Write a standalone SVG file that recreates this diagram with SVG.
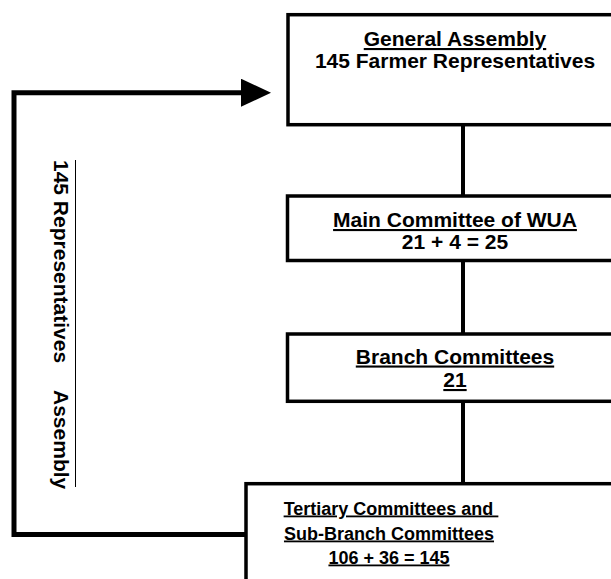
<svg xmlns="http://www.w3.org/2000/svg" width="611" height="579" viewBox="0 0 611 579">
  <style>
    .box { fill: #ffffff; stroke: #000000; stroke-width: 3.5; }
    .lbl { font-family: "Liberation Sans", Arial, sans-serif; font-weight: bold; font-size: 21px; fill: #000000; text-anchor: middle; }
    .sm { font-size: 18px; }
    .u { text-decoration: underline; }
    .link { fill: none; stroke: #000000; stroke-width: 4; }
    .loop { fill: none; stroke: #000000; stroke-width: 5; stroke-linejoin: miter; }
  </style>
  <defs>
    <marker id="arrow" markerUnits="userSpaceOnUse" markerWidth="30" markerHeight="28" viewBox="0 0 30 28" refX="0" refY="14" orient="auto">
      <path d="M0,0 L30,14 L0,28 Z" fill="#000000"/>
    </marker>
  </defs>
  <rect width="611" height="579" fill="#ffffff"/>

  <!-- connectors -->
  <g id="connectors">
    <line class="link" x1="463" y1="124" x2="463" y2="197"/>
    <line class="link" x1="463" y1="260" x2="463" y2="335"/>
    <line class="link" x1="463" y1="401" x2="463" y2="484"/>
    <path class="loop" d="M246,534.5 H14 V92.7 H241" marker-end="url(#arrow)"/>
  </g>

  <!-- side label of the feedback loop -->
  <g id="loop-label">
    <g transform="translate(54,160) rotate(90)">
      <text class="lbl" style="text-anchor:start" x="0" y="0">145 Representatives</text>
      <text class="lbl" style="text-anchor:start" x="230" y="0">Assembly</text>
    </g>
    <line x1="75.5" y1="160" x2="75.5" y2="487" stroke="#000000" stroke-width="1"/>
  </g>

  <g id="general-assembly">
    <rect class="box" x="288" y="14.7" width="360" height="110"/>
    <text class="lbl u" x="455" y="46">General Assembly</text>
    <text class="lbl" x="455" y="68">145 Farmer Representatives</text>
  </g>

  <g id="main-committee">
    <rect class="box" x="287.5" y="196" width="360" height="64.5"/>
    <text class="lbl u" x="455" y="227">Main Committee of WUA</text>
    <text class="lbl" x="455" y="249">21 + 4 = 25</text>
  </g>

  <g id="branch-committees">
    <rect class="box" x="287.5" y="334" width="360" height="67.3"/>
    <text class="lbl u" x="455" y="363.5">Branch Committees</text>
    <text class="lbl u" x="455" y="387">21</text>
  </g>

  <g id="tertiary-committees">
    <rect class="box" x="246" y="483.7" width="400" height="120"/>
    <text class="lbl sm u" x="391" y="514.5" xml:space="preserve">Tertiary Committees and </text>
    <text class="lbl sm u" x="389" y="539.5">Sub-Branch Committees</text>
    <text class="lbl sm u" x="389" y="563.5">106 + 36 = 145</text>
  </g>
</svg>
